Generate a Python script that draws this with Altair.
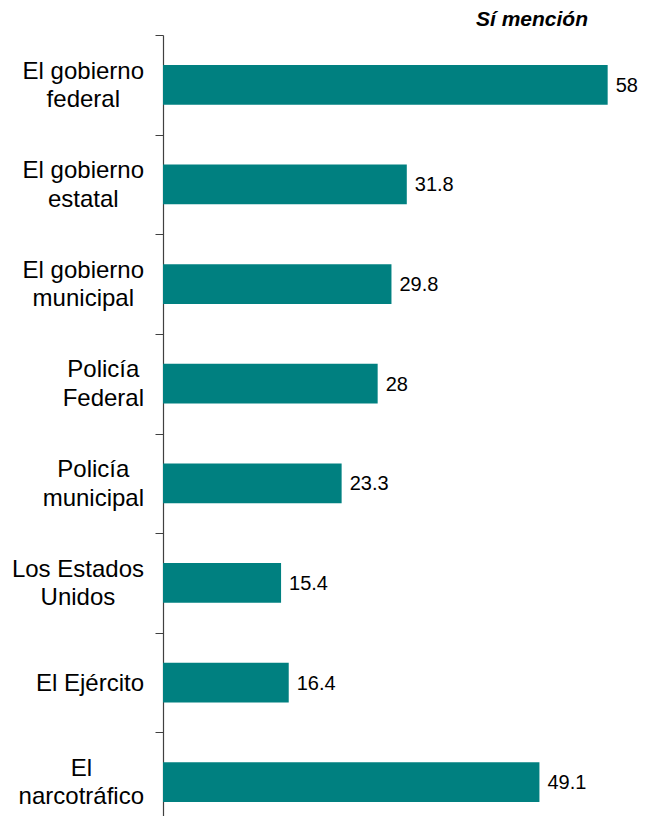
import altair as alt
import pandas as pd

# ---- data ----
categories = ["El gobierno federal", "El gobierno estatal", "El gobierno municipal",
              "Policía Federal", "Policía municipal", "Los Estados Unidos",
              "El Ejército", "El narcotráfico"]
label_lines = [["El gobierno", "federal"], ["El gobierno", "estatal"],
               ["El gobierno", "municipal"], ["Policía", "Federal"],
               ["Policía", "municipal"], ["Los Estados", "Unidos"],
               ["El Ejército"], ["El", "narcotráfico"]]
values = [58, 31.8, 29.8, 28, 23.3, 15.4, 16.4, 49.1]
value_labels = ["58", "31.8", "29.8", "28", "23.3", "15.4", "16.4", "49.1"]
title_text = "Sí mención"

# ---- layout helpers (Arial / Liberation Sans advance widths, per 1000 em) ----
ARIAL = {" ": 278, "E": 667, "l": 222, "g": 556, "o": 556, "b": 556, "i": 222,
         "e": 556, "r": 333, "n": 556, "f": 278, "d": 556, "a": 556, "s": 500,
         "t": 278, "u": 556, "m": 833, "c": 500, "p": 556, "P": 667, "í": 278,
         "F": 611, "L": 556, "U": 722, "j": 222, "é": 556, "á": 556}
LABEL_SIZE = 24
LINE_H = 28.5
LABEL_RIGHT_GAP = 19  # gap between label block right edge and axis line


def text_width(s, size):
    return sum(ARIAL.get(ch, 556) for ch in s) * size / 1000.0


label_x = [-LABEL_RIGHT_GAP - max(text_width(l, LABEL_SIZE) for l in lines) / 2.0
           for lines in label_lines]

df = pd.DataFrame({"cat": categories, "value": values, "vlabel": value_labels,
                   "lines": label_lines, "lx": label_x,
                   "nlines": [len(l) for l in label_lines]})

PAD_L, PAD_T, PAD_R = 155, 27, 16
PLOT_W = 460
PLOT_H = 781
BAND_RANGE = 797
TEAL = "#008080"
FONT = "Liberation Sans, Arial, Helvetica, sans-serif"
XDOM = [0, 60]

y_enc = alt.Y("cat:N", sort=categories,
              scale=alt.Scale(range=[0, BAND_RANGE], paddingInner=0.6, paddingOuter=0.3),
              axis=alt.Axis(labels=False, title=None, tickOffset=-BAND_RANGE / 16.0,
                            tickSize=8, tickColor="#404040", tickWidth=1,
                            domainColor="#404040", domainWidth=1.2, grid=False))

bars = alt.Chart(df).mark_bar(color=TEAL).encode(
    x=alt.X("value:Q", scale=alt.Scale(domain=XDOM, nice=False), axis=None),
    y=y_enc,
)

vals = alt.Chart(df).mark_text(align="left", baseline="middle", dx=8, dy=1,
                               fontSize=20, font=FONT, color="#000000").encode(
    x=alt.X("value:Q", scale=alt.Scale(domain=XDOM, nice=False), axis=None),
    y=alt.Y("cat:N", sort=categories),
    text=alt.Text("vlabel:N"),
)


def label_layer(n, dy):
    return alt.Chart(df).transform_filter(f"datum.nlines == {n}").mark_text(
        align="center", baseline="middle", dy=dy, fontSize=LABEL_SIZE,
        lineHeight=LINE_H, font=FONT, color="#000000").encode(
        x=alt.X("lx:Q", scale=None, axis=None),
        y=alt.Y("cat:N", sort=categories),
        text=alt.Text("lines"),
    )


labels_one = label_layer(1, 1)
labels_two = label_layer(2, 1 - LINE_H / 2)

title = alt.Chart(pd.DataFrame({"t": [title_text]})).mark_text(
    align="right", baseline="alphabetic", fontSize=21, fontWeight="bold",
    fontStyle="italic", font=FONT, color="#000000").encode(
    x=alt.value(425), y=alt.value(-9), text=alt.Text("t:N"))

chart = alt.layer(bars, vals, labels_one, labels_two, title).resolve_scale(
    x="independent").properties(
    width=PLOT_W,
    height=PLOT_H,
    autosize=alt.AutoSizeParams(type="none"),
    padding={"left": PAD_L, "top": PAD_T, "right": PAD_R, "bottom": 0},
    background="white",
).configure_view(stroke=None)

chart.save("out.html", embed_options={"renderer": "svg", "actions": False})
